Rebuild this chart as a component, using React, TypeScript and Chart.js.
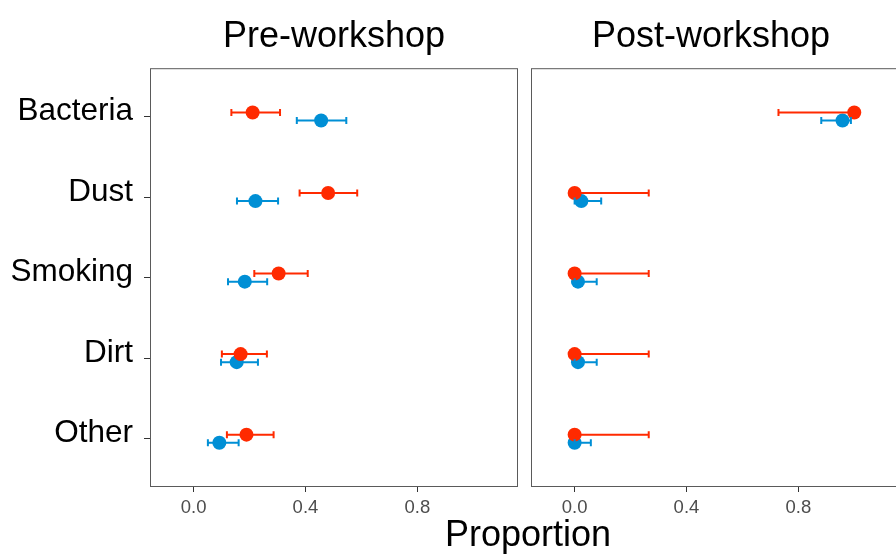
import React, { useEffect, useRef } from 'react';
import { Chart, registerables } from 'chart.js';
Chart.register(...registerables);

const categories = ['Bacteria', 'Dust', 'Smoking', 'Dirt', 'Other'];
const xTicks = [0, 0.4, 0.8];
const panelTitles = ['Pre-workshop', 'Post-workshop'];
const axisTitle = 'Proportion';

// Pre-workshop
const preRed = [0.211, 0.481, 0.304, 0.168, 0.189];
const preRedLo = [0.135, 0.379, 0.217, 0.101, 0.119];
const preRedHi = [0.309, 0.585, 0.408, 0.262, 0.286];
const preBlue = [0.456, 0.221, 0.183, 0.154, 0.092];
const preBlueLo = [0.369, 0.155, 0.123, 0.098, 0.051];
const preBlueHi = [0.546, 0.302, 0.263, 0.23, 0.161];

// Post-workshop
const postRed = [1.0, 0, 0, 0, 0];
const postRedLo = [0.729, 0, 0, 0, 0];
const postRedHi = [1.0, 0.265, 0.265, 0.265, 0.265];
const postBlue = [0.958, 0.024, 0.012, 0.012, 0];
const postBlueLo = [0.882, 0, 0, 0, 0];
const postBlueHi = [0.988, 0.095, 0.079, 0.079, 0.058];

const RED = '#FF2A00';
const BLUE = '#008FD5';
const FONT = "'Liberation Sans', Arial, sans-serif";
const DODGE = 0.05;

type Series = { v: number[]; lo: number[]; hi: number[]; color: string; off: number };

function makeChart(
  canvas: HTMLCanvasElement,
  title: string,
  red: Series,
  blue: Series,
  showY: boolean
) {
  const panelPlugin = {
    id: 'panelBox',
    afterDatasetsDraw(chart: any) {
      const { ctx, chartArea: a, scales } = chart;
      const x = scales.x;
      const y = scales.y;
      ctx.save();
      for (const s of [blue, red]) {
        ctx.strokeStyle = s.color;
        ctx.lineWidth = 2;
        s.v.forEach((_, i) => {
          const yp = y.getPixelForValue(i + 1 + s.off);
          const x1 = x.getPixelForValue(s.lo[i]);
          const x2 = x.getPixelForValue(s.hi[i]);
          ctx.beginPath();
          ctx.moveTo(x1, yp);
          ctx.lineTo(x2, yp);
          ctx.moveTo(x1, yp - 3.5);
          ctx.lineTo(x1, yp + 3.5);
          ctx.moveTo(x2, yp - 3.5);
          ctx.lineTo(x2, yp + 3.5);
          ctx.stroke();
        });
      }
      ctx.strokeStyle = '#5a5a5a';
      ctx.lineWidth = 1;
      ctx.strokeRect(a.left + 0.5, a.top + 0.5, a.width - 1, a.height - 1);
      ctx.restore();
    },
  };

  const mk = (s: Series) =>
    s.v.map((val, i) => ({ x: val, y: i + 1 + s.off }));

  return new Chart(canvas, {
    type: 'scatter',
    data: {
      datasets: [
        {
          data: mk(red),
          backgroundColor: red.color,
          borderWidth: 0,
          pointRadius: 7,
          pointHoverRadius: 7,
        },
        {
          data: mk(blue),
          backgroundColor: blue.color,
          borderWidth: 0,
          pointRadius: 7,
          pointHoverRadius: 7,
        },
      ],
    },
    options: {
      animation: false,
      responsive: false,
      maintainAspectRatio: false,
      events: [],
      layout: {
        autoPadding: false,
        padding: showY
          ? { left: 0, right: 5, top: 0, bottom: 0 }
          : { left: 0, right: 0, top: 0, bottom: 0 },
      },
      plugins: {
        legend: { display: false },
        tooltip: { enabled: false },
        title: {
          display: true,
          text: title,
          fullSize: !showY,
          color: '#000',
          font: { family: FONT, size: 36, weight: 'normal', lineHeight: 1.2 },
          padding: { top: 15, bottom: 10 },
        },
      },
      scales: {
        x: {
          type: 'linear',
          min: -0.156,
          max: 1.16,
          afterBuildTicks: (scale: any) => {
            scale.ticks = xTicks.map((v) => ({ value: v }));
          },
          afterFit: (scale: any) => {
            scale.height = 68;
            scale.paddingLeft = 0;
            scale.paddingRight = 0;
          },
          grid: {
            display: true,
            drawOnChartArea: false,
            drawTicks: true,
            tickLength: 5,
            color: '#333',
            lineWidth: 1,
          },
          border: { display: false },
          ticks: {
            padding: 5,
            color: '#4d4d4d',
            font: { family: FONT, size: 18.5 },
            callback: (v: any) => Number(v).toFixed(1),
          },
        },
        y: {
          type: 'linear',
          display: showY,
          reverse: true,
          min: 0.4,
          max: 5.6,
          afterBuildTicks: (scale: any) => {
            scale.ticks = categories.map((_, i) => ({ value: i + 1 }));
          },
          afterFit: (scale: any) => {
            scale.width = showY ? 150 : 8;
            scale.paddingTop = 0;
            scale.paddingBottom = 0;
          },
          grid: {
            display: true,
            drawOnChartArea: false,
            drawTicks: true,
            tickLength: 6,
            color: '#333',
            lineWidth: 1,
          },
          border: { display: false },
          ticks: {
            padding: 11,
            labelOffset: -5,
            color: '#000',
            font: { family: FONT, size: 31.5 },
            callback: (v: any) => categories[Math.round(Number(v)) - 1] ?? '',
          },
        },
      },
    },
    plugins: [panelPlugin],
  } as any);
}

export default function App() {
  const leftRef = useRef<HTMLCanvasElement>(null);
  const rightRef = useRef<HTMLCanvasElement>(null);

  useEffect(() => {
    const c1 = makeChart(
      leftRef.current!,
      panelTitles[0],
      { v: preRed, lo: preRedLo, hi: preRedHi, color: RED, off: -DODGE },
      { v: preBlue, lo: preBlueLo, hi: preBlueHi, color: BLUE, off: DODGE },
      true
    );
    const c2 = makeChart(
      rightRef.current!,
      panelTitles[1],
      { v: postRed, lo: postRedLo, hi: postRedHi, color: RED, off: -DODGE },
      { v: postBlue, lo: postBlueLo, hi: postBlueHi, color: BLUE, off: DODGE },
      false
    );
    return () => {
      c1.destroy();
      c2.destroy();
    };
  }, []);

  return (
    <div
      style={{
        position: 'absolute',
        left: 0,
        top: 0,
        width: 896,
        height: 555,
        overflow: 'hidden',
        background: '#fff',
      }}
    >
      <canvas
        ref={leftRef}
        width={523}
        height={555}
        style={{ position: 'absolute', left: 0, top: 0, width: 523, height: 555 }}
      />
      <canvas
        ref={rightRef}
        width={376}
        height={555}
        style={{ position: 'absolute', left: 523, top: 0, width: 376, height: 555 }}
      />
      <div
        style={{
          position: 'absolute',
          left: 528,
          top: 516,
          transform: 'translateX(-50%)',
          fontFamily: FONT,
          fontSize: 36,
          lineHeight: 1,
          color: '#000',
          whiteSpace: 'nowrap',
        }}
      >
        {axisTitle}
      </div>
    </div>
  );
}
